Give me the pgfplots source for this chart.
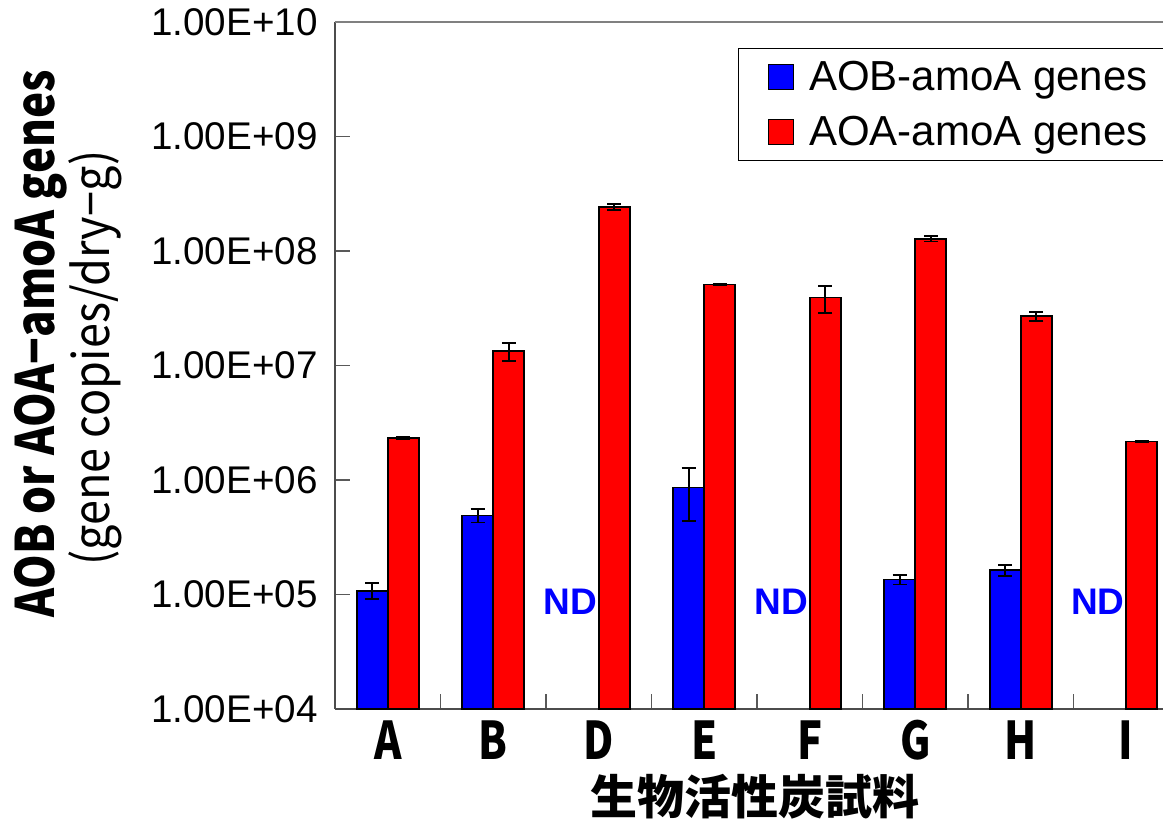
\documentclass[border=0pt]{standalone}
\usepackage{pgfplots}
\usepackage{pgfplotstable}
\pgfplotsset{compat=1.18}
\usepackage{fontspec}
\setmainfont{Liberation Sans}
\newfontfamily\cjkfont{Noto Sans CJK JP}
\newfontfamily\ticknarrow[FakeStretch=0.8]{Noto Sans CJK JP}
\newfontfamily\ylabfont[FakeStretch=0.83]{Noto Sans CJK JP}
\newfontfamily\ylabfontb[FakeStretch=0.9]{Noto Sans CJK JP}

\definecolor{aob}{RGB}{0,0,255}
\definecolor{aoa}{RGB}{255,0,0}

% gene copies per dry gram, mean and standard deviation
\pgfplotstableread{
x y err
0 1.08e5 1.7e4
1 4.9e5  6.5e4
3 8.6e5  4.2e5
5 1.35e5 1.3e4
6 1.64e5 1.8e4
}\aobdata

\pgfplotstableread{
x y err
0 2.33e6 0.06e6
1 1.33e7 2.3e6
2 2.42e8 1.5e7
3 5.1e7  0.05e7
4 3.93e7 1.05e7
5 1.28e8 0.07e8
6 2.70e7 0.25e7
7 2.17e6 0.03e6
}\aoadata

\pgfplotsset{
  sd bars/.style={
    error bars/y dir=both, error bars/y explicit,
    error bars/error bar style={black, line width=0.9pt},
    error bars/error mark options={rotate=90, black, line width=0.9pt, mark size=3.5pt}},
}

\begin{document}
\begin{tikzpicture}
\useasboundingbox (-167.5pt,-56.5pt) rectangle (414pt,354.5pt);
\clip (-167.5pt,-56.5pt) rectangle (414pt,354.5pt);
\begin{axis}[
  at={(0,0)}, anchor=south west,
  scale only axis, width=422pt, height=343.5pt,
  ymode=log, ymin=1e4, ymax=1e10, log origin=infty,
  xmin=-0.5, xmax=7.5,
  clip=false,
  axis x line*=bottom, axis y line*=left,
  axis line style={black!70, line width=0.8pt},
  tick align=inside,
  tick style={gray!70!black, line width=0.6pt},
  major tick length=7.5pt, minor tick length=7.5pt,
  ytick={1e4,1e5,1e6,1e7,1e8,1e9,1e10},
  yticklabels={1.00E+04,1.00E+05,1.00E+06,1.00E+07,1.00E+08,1.00E+09,1.00E+10},
  yminorticks=false,
  xtick={0,...,7},
  xticklabels={A,B,D,E,F,G,H,I},
  major x tick style={draw=none},
  minor xtick={0.5,1.5,2.5,3.5,4.5,5.5,6.5},
  yticklabel style={font=\fontsize{19.3}{23}\selectfont, inner sep=0pt, xshift=-8.5pt},
  xticklabel style={font=\ticknarrow\bfseries\fontsize{26}{30}\selectfont, anchor=base, inner sep=0pt, yshift=-25.5pt},
  legend style={at={(0.4774,0.9620)}, anchor=north west, draw=black, line width=0.6pt,
    font=\fontsize{21}{25}\selectfont, inner xsep=14.5pt, inner ysep=6.1pt, row sep=11.3pt,
    nodes={inner xsep=3.5pt, inner ysep=0pt}},
  legend cell align=left,
  legend image code/.code={
    \draw[#1, line width=0.6pt] (0pt,-6.25pt) rectangle (12.5pt,6.25pt);
    \path (16.5pt,0pt);},
  bar width=0.295,
]
\addplot[ybar, bar shift=0pt, fill=aob, draw=black, line width=0.9pt, sd bars]
  table[x expr=\thisrow{x}-0.1475, y=y, y error=err] {\aobdata};
\addlegendentry{AOB-amoA genes}
\addplot[ybar, bar shift=0pt, fill=aoa, draw=black, line width=0.9pt, sd bars]
  table[x expr=\thisrow{x}+0.1475, y=y, y error=err] {\aoadata};
\addlegendentry{AOA-amoA genes}

% top frame line
\draw[gray, line width=0.8pt] (rel axis cs:0,1) -- (rel axis cs:1,1);

% samples without detected AOB
\node[text=aob, font=\bfseries\fontsize{18.5}{22}\selectfont, inner sep=0pt] at (axis cs:1.73,8.7e4) {ND};
\node[text=aob, font=\bfseries\fontsize{18.5}{22}\selectfont, inner sep=0pt] at (axis cs:3.73,8.7e4) {ND};
\node[text=aob, font=\bfseries\fontsize{18.5}{22}\selectfont, inner sep=0pt] at (axis cs:6.73,8.7e4) {ND};
\end{axis}

\node[rotate=90, anchor=base, font=\ylabfont\bfseries\fontsize{26.5}{30}\selectfont]
  at (-140pt,182.5pt) {AOB or AOA−amoA genes};
\node[rotate=90, anchor=base, font=\ylabfontb\fontsize{25}{29}\selectfont]
  at (-112.5pt,175.5pt) {(gene copies/dry−g)};
\node[anchor=base, font=\cjkfont\bfseries\fontsize{23.5}{28}\selectfont]
  at (210pt,-53pt) {生物活性炭試料};
\end{tikzpicture}
\end{document}
